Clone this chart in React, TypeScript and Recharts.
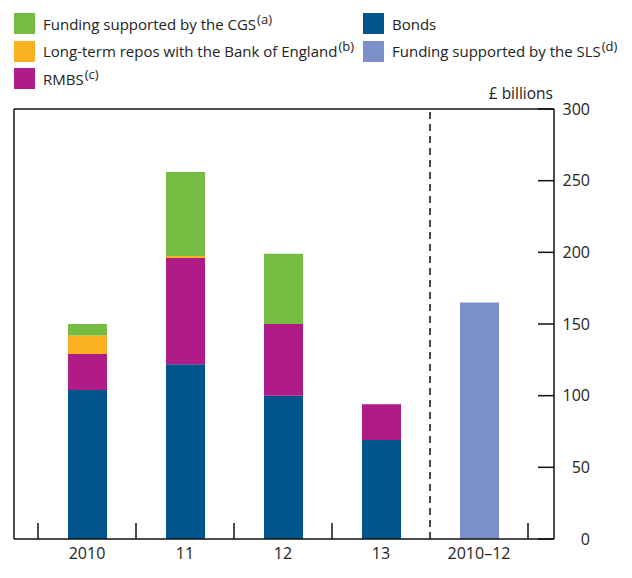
import React from "react";
import { BarChart, Bar, XAxis, YAxis, ReferenceLine } from "recharts";

const categories = ["2010", "11", "12", "13", "2010–12"];
const bonds = [104, 122, 100, 69, null];
const rmbs = [25, 74, 50, 25, null];
const repos = [13, 1.5, null, null, null];
const cgs = [8, 58.5, 49, null, null];
const sls = [null, null, null, null, 165];
const yTicks = [0, 50, 100, 150, 200, 250, 300];

const COLORS = {
  cgs: "#76BC43",
  repos: "#F9B122",
  rmbs: "#B01C87",
  bonds: "#00558B",
  sls: "#7B8FC8",
};

const data = categories.map((name, i) => ({
  name,
  bonds: bonds[i],
  rmbs: rmbs[i],
  repos: repos[i],
  cgs: cgs[i],
  sls: sls[i],
}));

const FONT = "'Open Sans', sans-serif";
const TICK_MARGIN = 6;
const INNER_TICK = 16;

const CategoryTick = (props: any) => {
  const { x, y, payload, index, visibleTicksCount } = props;
  const half = payload?.offset ?? 49;
  const axisY = y - TICK_MARGIN;
  const last = index === (visibleTicksCount ?? categories.length) - 1;
  return (
    <g>
      {!last && (
        <line x1={x - half} x2={x - half} y1={axisY} y2={axisY - INNER_TICK} stroke="#111" strokeWidth={1.5} />
      )}
      {last && (
        <line x1={x + half} x2={x + half} y1={axisY} y2={axisY - INNER_TICK} stroke="#111" strokeWidth={1.5} />
      )}
      <text x={x} y={y} dy="0.85em" textAnchor="middle" fontSize={16} fill="#222" fontFamily={FONT}>
        {payload.value}
      </text>
    </g>
  );
};

const Swatch = ({ color, label, sup }: { color: string; label: string; sup?: string }) => (
  <div style={{ display: "flex", alignItems: "center", height: 27.5, whiteSpace: "nowrap" }}>
    <span style={{ width: 21, height: 21, background: color, display: "inline-block", marginRight: 8, flex: "none" }} />
    <span>
      {label}
      {sup && <span style={{ fontSize: 13, position: "relative", top: -6, marginLeft: 1 }}>{sup}</span>}
    </span>
  </div>
);

export default function App() {
  return (
    <div
      style={{
        position: "absolute",
        left: 0,
        top: 0,
        width: 632,
        height: 578,
        background: "#fff",
        fontFamily: FONT,
        fontSize: 15,
        color: "#222",
      }}
    >
      <div style={{ position: "absolute", left: 14, top: 10 }}>
        <Swatch color={COLORS.cgs} label="Funding supported by the CGS" sup="(a)" />
        <Swatch color={COLORS.repos} label="Long-term repos with the Bank of England" sup="(b)" />
        <Swatch color={COLORS.rmbs} label="RMBS" sup="(c)" />
      </div>
      <div style={{ position: "absolute", left: 363, top: 10 }}>
        <Swatch color={COLORS.bonds} label="Bonds" />
        <Swatch color={COLORS.sls} label="Funding supported by the SLS" sup="(d)" />
      </div>
      <div style={{ position: "absolute", right: 632 - 553, top: 82, fontSize: 15.5, whiteSpace: "nowrap" }}>
        £ billions
      </div>
      <div style={{ position: "absolute", left: 0, top: 0 }}>
        <BarChart
          width={632}
          height={578}
          data={data}
          margin={{ top: 108, right: 18, bottom: 9, left: 13 }}
          barSize={39}
        >
          <XAxis
            xAxisId="b"
            dataKey="name"
            height={30}
            padding={{ left: 24, right: 26 }}
            axisLine={{ stroke: "#111", strokeWidth: 1.5 }}
            tickLine={false}
            tickSize={0}
            tickMargin={TICK_MARGIN}
            tick={<CategoryTick />}
            interval={0}
          />
          <XAxis
            xAxisId="t"
            orientation="top"
            dataKey="name"
            height={1}
            padding={{ left: 24, right: 26 }}
            axisLine={{ stroke: "#111", strokeWidth: 1.5 }}
            tickLine={false}
            tick={false}
          />
          <YAxis
            yAxisId="l"
            orientation="left"
            width={1}
            domain={[0, 300]}
            axisLine={{ stroke: "#111", strokeWidth: 1.5 }}
            tickLine={false}
            tick={false}
          />
          <YAxis
            yAxisId="r"
            orientation="right"
            width={60}
            domain={[0, 300]}
            ticks={yTicks}
            interval={0}
            axisLine={{ stroke: "#111", strokeWidth: 1.5 }}
            tickLine={{ stroke: "#111", strokeWidth: 1.5 }}
            tickSize={-16}
            tickMargin={52}
            tick={{ textAnchor: "end", fontSize: 16, fill: "#222", fontFamily: FONT }}
          />
          <ReferenceLine
            xAxisId="b"
            yAxisId="r"
            x="2010–12"
            position="start"
            stroke="#111"
            strokeWidth={1.5}
            strokeDasharray="7 5"
          />
          <Bar xAxisId="b" yAxisId="r" dataKey="bonds" stackId="a" fill={COLORS.bonds} isAnimationActive={false} />
          <Bar xAxisId="b" yAxisId="r" dataKey="rmbs" stackId="a" fill={COLORS.rmbs} isAnimationActive={false} />
          <Bar xAxisId="b" yAxisId="r" dataKey="repos" stackId="a" fill={COLORS.repos} isAnimationActive={false} />
          <Bar xAxisId="b" yAxisId="r" dataKey="cgs" stackId="a" fill={COLORS.cgs} isAnimationActive={false} />
          <Bar xAxisId="b" yAxisId="r" dataKey="sls" stackId="a" fill={COLORS.sls} isAnimationActive={false} />
        </BarChart>
      </div>
    </div>
  );
}
